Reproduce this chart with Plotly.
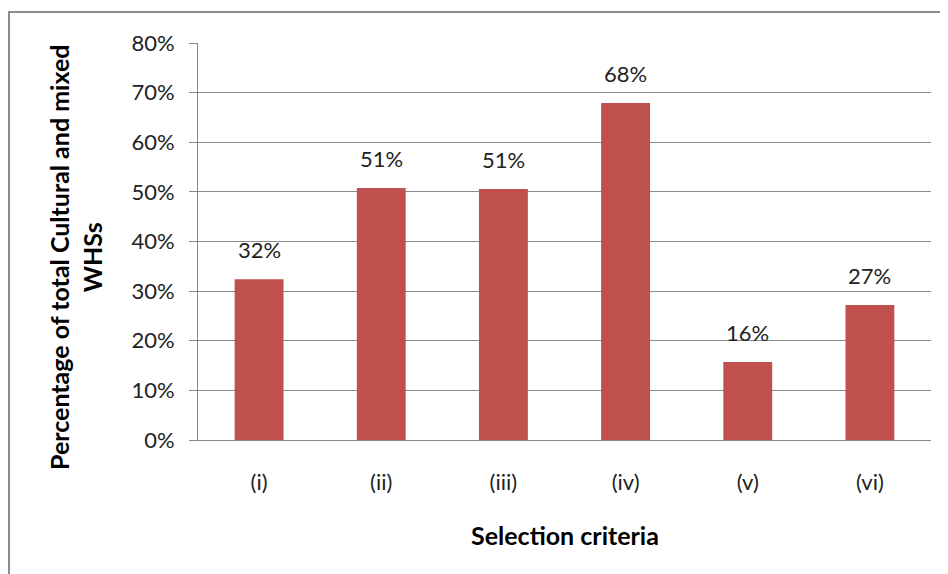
import plotly.graph_objects as go

categories = ["(i)", "(ii)", "(iii)", "(iv)", "(v)", "(vi)"]
values = [0.324, 0.508, 0.506, 0.679, 0.157, 0.272]
y_ticks = [0, 0.1, 0.2, 0.3, 0.4, 0.5, 0.6, 0.7, 0.8]
y_title = "Percentage of total Cultural and mixed<br>WHSs"
x_title = "Selection criteria"

FONT = "Lato, Open Sans, sans-serif"
OFF = 8  # page body margin
W, H = 948 - OFF, 574 - OFF
# desired screen positions of the plot area
SL, SR, ST, SB = 198, 931, 43, 440
L, T = SL - OFF, ST - OFF
R, B = W - (SR - OFF), H - (SB - OFF)
pw, ph = W - L - R, H - T - B


def px(sx):
    return (sx - SL) / pw


def py(sy):
    return (SB - sy) / ph


fig = go.Figure()
fig.add_trace(go.Bar(
    x=categories, y=values, width=0.4,
    marker=dict(color="#C0504D", line=dict(width=0)),
    hoverinfo="skip",
))

for c, v in zip(categories, values):
    fig.add_annotation(x=c, y=v, text=f"{round(v*100):d}%", showarrow=False,
                       yanchor="bottom", yshift=14,
                       font=dict(family=FONT, size=22, color="#222"))

fig.add_annotation(x=px(75), y=py(258), xref="paper", yref="paper",
                   xanchor="center", yanchor="middle",
                   text=f"<b>{y_title}</b>", textangle=-90, showarrow=False,
                   font=dict(family=FONT, size=25, color="#000"))
fig.add_annotation(x=px(565), y=py(535), xref="paper", yref="paper",
                   xanchor="center", yanchor="middle",
                   text=f"<b>{x_title}</b>", showarrow=False,
                   font=dict(family=FONT, size=25, color="#000"))

fig.add_shape(type="rect", xref="paper", yref="paper",
              x0=px(9), x1=px(980), y0=py(600), y1=py(12),
              line=dict(color="#8c8c8c", width=2), layer="below")

fig.update_layout(
    width=W, height=H,
    margin=dict(l=L, r=R, t=T, b=B, pad=0),
    paper_bgcolor="white", plot_bgcolor="white",
    showlegend=False,
    xaxis=dict(showgrid=False, showline=True, linecolor="#888", linewidth=1,
               ticks="", ticklabelstandoff=23,
               tickfont=dict(family=FONT, size=22, color="#222")),
    yaxis=dict(range=[0, 0.8], tickvals=y_ticks, tickformat=".0%",
               showgrid=True, gridcolor="#8c8c8c", gridwidth=1,
               showline=True, linecolor="#888", linewidth=1,
               ticks="outside", ticklen=8, tickcolor="#888",
               ticklabelstandoff=10, zeroline=False,
               tickfont=dict(family=FONT, size=22, color="#222")),
)

fig.write_html("out.html")
